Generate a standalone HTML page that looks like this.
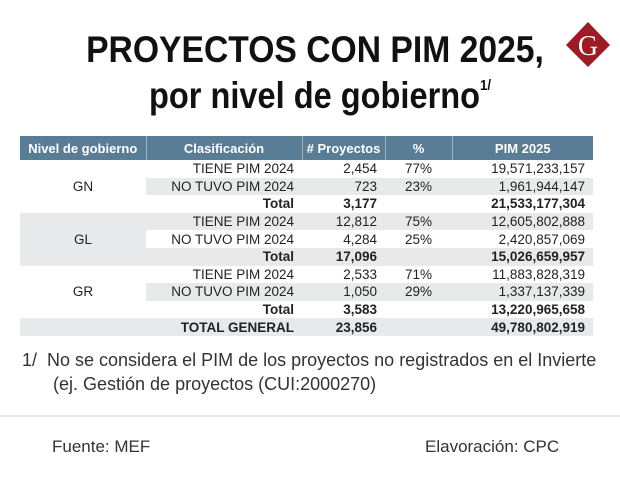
<!DOCTYPE html>
<html><head><meta charset="utf-8"><style>
body{margin:0;width:620px;height:490px;background:#fff;position:relative;overflow:hidden;font-family:"Liberation Sans",sans-serif;color:#222}
.t{position:absolute;white-space:nowrap}
#title1{left:0;width:630px;text-align:center;top:29px;font-size:37px;font-weight:bold;color:#111;transform:scaleX(0.91);transform-origin:315px 0}
#title2{left:0;width:640px;text-align:center;top:75px;font-size:37px;font-weight:bold;color:#111;transform:scaleX(0.88);transform-origin:320px 0}
#title2 sup{font-size:15px;vertical-align:18px}
table{position:absolute;left:20px;top:136px;width:573px;border-collapse:collapse;table-layout:fixed;font-size:13.5px}
td,th{height:17.6px;padding:0 8px 0 0;line-height:17px}
th{background:#5a7d96;color:#fff;font-weight:bold;height:24px;text-align:center;border-left:1px solid #9fb3c3;padding:0;font-size:13px}
th:first-child{border-left:none}
.g{background:#e8e9eb}
.r{text-align:right}.c{text-align:center;padding:0}
.b{font-weight:bold}
</style></head><body>
<div class="t" id="title1">PROYECTOS CON PIM 2025,</div>
<div class="t" id="title2">por nivel de gobierno<sup>1/</sup></div>
<svg style="position:absolute;left:564px;top:21px" width="48" height="48">
<polygon points="24,1 46,24 24,46 2,24" fill="#9e1b24"/>
<text x="24" y="34" text-anchor="middle" font-family="Liberation Serif,serif" font-size="28" fill="#fff">G</text>
</svg>
<table>
<colgroup><col style="width:126px"><col style="width:156px"><col style="width:83px"><col style="width:67px"><col style="width:141px"></colgroup>
<tr><th>Nivel de gobierno</th><th>Clasificación</th><th># Proyectos</th><th>%</th><th>PIM 2025</th></tr>
<tr><td class="c" rowspan="3">GN</td><td class="r">TIENE PIM 2024</td><td class="r">2,454</td><td class="c">77%</td><td class="r">19,571,233,157</td></tr>
<tr class="g"><td class="r">NO TUVO PIM 2024</td><td class="r">723</td><td class="c">23%</td><td class="r">1,961,944,147</td></tr>
<tr class="b"><td class="r">Total</td><td class="r">3,177</td><td></td><td class="r">21,533,177,304</td></tr>
<tr class="g"><td class="c g" rowspan="3">GL</td><td class="r">TIENE PIM 2024</td><td class="r">12,812</td><td class="c">75%</td><td class="r">12,605,802,888</td></tr>
<tr><td class="r">NO TUVO PIM 2024</td><td class="r">4,284</td><td class="c">25%</td><td class="r">2,420,857,069</td></tr>
<tr class="g b"><td class="r">Total</td><td class="r">17,096</td><td></td><td class="r">15,026,659,957</td></tr>
<tr><td class="c" rowspan="3">GR</td><td class="r">TIENE PIM 2024</td><td class="r">2,533</td><td class="c">71%</td><td class="r">11,883,828,319</td></tr>
<tr class="g"><td class="r">NO TUVO PIM 2024</td><td class="r">1,050</td><td class="c">29%</td><td class="r">1,337,137,339</td></tr>
<tr class="b"><td class="r">Total</td><td class="r">3,583</td><td></td><td class="r">13,220,965,658</td></tr>
<tr class="g b"><td></td><td class="r">TOTAL GENERAL</td><td class="r">23,856</td><td></td><td class="r">49,780,802,919</td></tr>
</table>
<div class="t" style="left:22px;top:350px;font-size:18px;color:#333">1/&nbsp; No se considera el PIM de los proyectos no registrados en el Invierte</div>
<div class="t" style="left:53px;top:374px;font-size:18px;color:#333">(ej. Gestión de proyectos (CUI:2000270)</div>
<div style="position:absolute;left:0;top:415px;width:620px;height:2px;background:#e6e6e6"></div>
<div class="t" style="left:52px;top:437px;font-size:17px;color:#333">Fuente: MEF</div>
<div class="t" style="left:425px;top:437px;font-size:17px;color:#333">Elavoración: CPC</div>
</body></html>
